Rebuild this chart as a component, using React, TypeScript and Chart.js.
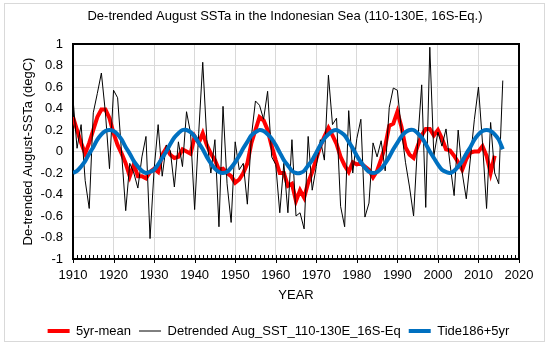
import React, { useEffect, useRef } from "react";
import { Chart, registerables } from "chart.js";

Chart.register(...registerables);

const START_YEAR = 1910;

// 5-year running mean (1910-2014)
const fiveYrMean = [
  0.32, 0.2, 0.08, -0.02, 0.08, 0.2, 0.32, 0.39, 0.39, 0.31,
  0.17, 0.06, -0.02, -0.11, -0.23, -0.12, -0.23, -0.23, -0.25, -0.19,
  -0.16, -0.19, -0.03, 0.03, -0.03, -0.06, -0.05, 0.02, 0.0, -0.02,
  0.14, 0.08, 0.17, 0.06, -0.02, -0.08, -0.17, -0.16, -0.2, -0.23,
  -0.29, -0.26, -0.2, -0.11, 0.08, 0.2, 0.32, 0.29, 0.2, 0.05,
  -0.08, -0.2, -0.2, -0.32, -0.3, -0.46, -0.36, -0.43, -0.29, -0.19,
  -0.07, 0.05, 0.14, 0.22, 0.15, 0.07, -0.05, -0.13, -0.19, -0.1,
  -0.12, -0.11, -0.14, -0.17, -0.24, -0.18, -0.07, 0.05, 0.24, 0.26,
  0.37, 0.23, 0.04, -0.03, -0.06, 0.05, 0.15, 0.21, 0.21, 0.15,
  0.2, 0.12, 0.02, 0.01, -0.04, -0.1, -0.17, -0.07, -0.01, 0.0,
  0.0, 0.05, -0.04, -0.2, -0.04,
];

// Detrended August SST anomaly (1910-2016)
const detrended = [
  0.49, 0.03, 0.25, -0.27, -0.53, 0.36, 0.54, 0.73, 0.36, -0.16,
  0.57, 0.5, -0.02, -0.55, -0.11, -0.2, -0.34, -0.05, 0.14, -0.81,
  -0.17, 0.25, -0.23, 0.06, 0.01, -0.33, 0.09, -0.14, 0.37, 0.17,
  -0.54, 0.17, 0.83, 0.11, -0.2, 0.11, -0.7, 0.42, -0.3, -0.66,
  0.09, -0.17, -0.11, -0.49, 0.14, 0.47, 0.43, 0.3, 0.56, -0.05,
  -0.12, -0.57, -0.11, -0.57, 0.11, -0.6, -0.57, -0.72, 0.14, -0.36,
  -0.14, 0.11, -0.08, 0.71, 0.25, 0.31, -0.51, -0.7, 0.38, -0.2,
  0.12, 0.3, -0.61, -0.48, 0.08, -0.05, 0.1, -0.18, 0.41, 0.59,
  0.57, 0.2, -0.1, -0.33, -0.6, 0.08, 0.62, -0.52, 0.97, -0.04,
  0.18, 0.05, 0.21, -0.12, -0.41, 0.2, -0.2, -0.44, -0.07, 0.3,
  0.6, 0.08, -0.53, 0.27, -0.2, -0.3, 0.66,
];

// Tide186+5yr (1910-2016)
const tide = [
  -0.2, -0.18, -0.14, -0.09, -0.02, 0.04, 0.11, 0.16, 0.19, 0.2,
  0.19, 0.16, 0.11, 0.04, -0.02, -0.09, -0.14, -0.18, -0.2, -0.19,
  -0.17, -0.12, -0.06, 0.0, 0.07, 0.13, 0.17, 0.2, 0.2, 0.18,
  0.14, 0.08, 0.02, -0.05, -0.11, -0.16, -0.19, -0.2, -0.19, -0.15,
  -0.1, -0.04, 0.03, 0.09, 0.15, 0.18, 0.2, 0.19, 0.16, 0.12,
  0.06, -0.01, -0.08, -0.13, -0.18, -0.2, -0.2, -0.18, -0.13, -0.08,
  -0.01, 0.06, 0.12, 0.16, 0.19, 0.2, 0.18, 0.15, 0.09, 0.03,
  -0.04, -0.1, -0.15, -0.19, -0.2, -0.19, -0.16, -0.11, -0.05, 0.02,
  0.08, 0.14, 0.18, 0.2, 0.2, 0.17, 0.13, 0.07, 0.0, -0.06,
  -0.12, -0.17, -0.19, -0.2, -0.18, -0.14, -0.09, -0.02, 0.04, 0.11,
  0.16, 0.19, 0.2, 0.19, 0.16, 0.11, 0.02,
];

const X_MIN = 1910;
const X_MAX = 2020;
const X_STEP = 10;
const Y_MIN = -1;
const Y_MAX = 1;
const Y_STEP = 0.2;

const TITLE = "De-trended August SSTa in the Indonesian Sea (110-130E, 16S-Eq.)";
const Y_TITLE = "De-trended August-SSTa (degC)";
const X_TITLE = "YEAR";
const LABELS = ["5yr-mean", "Detrended Aug_SST_110-130E_16S-Eq", "Tide186+5yr"];

const toPoints = (arr: number[]) => arr.map((v, i) => ({ x: START_YEAR + i, y: v }));

const FONT = "'Liberation Sans', Arial, sans-serif";

const outerBorder = {
  id: "outerBorder",
  beforeDraw(chart: any) {
    const { ctx, width, height } = chart;
    ctx.save();
    ctx.fillStyle = "#ffffff";
    ctx.fillRect(0, 0, width, height);
    ctx.strokeStyle = "#d9d9d9";
    ctx.lineWidth = 1;
    ctx.strokeRect(4.5, 3.5, 540, 338);
    ctx.restore();
  },
  afterDraw(chart: any) {
    const { ctx } = chart;
    ctx.save();
    ctx.fillStyle = "#000";
    ctx.font = "13px " + FONT;
    ctx.textAlign = "center";
    ctx.textBaseline = "middle";
    ctx.fillText(TITLE, 285, 16.5);
    ctx.restore();
  },
};

const plotFrame = {
  id: "plotFrame",
  beforeDatasetsDraw(chart: any) {
    const { ctx, chartArea } = chart;
    const xs = chart.scales.x;
    ctx.save();
    ctx.strokeStyle = "#000";
    ctx.lineWidth = 2;
    ctx.strokeRect(chartArea.left, chartArea.top, chartArea.right - chartArea.left, chartArea.bottom - chartArea.top);
    ctx.lineWidth = 1;
    ctx.beginPath();
    for (let yr = X_MIN; yr <= X_MAX; yr++) {
      const px = Math.round(xs.getPixelForValue(yr)) + 0.5;
      if (yr % 10 === 0) {
        ctx.moveTo(px, chartArea.bottom - 4);
        ctx.lineTo(px, chartArea.bottom + 4);
      } else {
        ctx.moveTo(px, chartArea.bottom - 4);
        ctx.lineTo(px, chartArea.bottom);
      }
    }
    ctx.stroke();
    ctx.restore();
  },
};

const shiftLegend = {
  id: "shiftLegend",
  afterLayout(chart: any) {
    const lg = chart.legend;
    if (lg) {
      lg.left += 19;
      lg.right += 19;
      lg.top += 1.5;
      lg.bottom += 1.5;
    }
  },
};

export default function App() {
  const canvasRef = useRef<HTMLCanvasElement | null>(null);

  useEffect(() => {
    const canvas = canvasRef.current;
    if (!canvas) return;
    const chart = new Chart(canvas, {
      type: "line",
      data: {
        datasets: [
          {
            label: LABELS[0],
            data: toPoints(fiveYrMean),
            borderColor: "#ff0000",
            backgroundColor: "#ff0000",
            borderWidth: 4,
            pointRadius: 0,
            tension: 0,
            order: 3,
          },
          {
            label: LABELS[1],
            data: toPoints(detrended),
            borderColor: "#000000",
            backgroundColor: "#000000",
            borderWidth: 1,
            pointRadius: 0,
            tension: 0,
            order: 2,
          },
          {
            label: LABELS[2],
            data: toPoints(tide),
            borderColor: "#0070c0",
            backgroundColor: "#0070c0",
            borderWidth: 4,
            pointRadius: 0,
            tension: 0.3,
            order: 1,
          },
        ],
      },
      options: {
        responsive: false,
        animation: false,
        devicePixelRatio: 1,
        layout: { padding: { left: 0, right: 31, top: 44, bottom: 0 } },
        font: { family: FONT, size: 13 },
        color: "#000",
        plugins: {
          title: { display: false },
          legend: {
            display: true,
            position: "bottom",
            labels: {
              usePointStyle: true,
              pointStyle: "line",
              pointStyleWidth: 22,
              boxWidth: 22,
              padding: 8,
              color: "#000",
              font: { family: FONT, size: 13 },
              sort: (a: any, b: any) => a.datasetIndex - b.datasetIndex,
            },
          },
          tooltip: { enabled: false },
        },
        scales: {
          x: {
            type: "linear",
            min: X_MIN,
            max: X_MAX,
            border: { display: false },
            grid: { color: "#d9d9d9", lineWidth: 1, drawTicks: false },
            ticks: {
              stepSize: X_STEP,
              autoSkip: false,
              maxRotation: 0,
              padding: 9,
              color: "#000",
              font: { family: FONT, size: 13 },
              callback: (v: any) => String(v),
            },
            title: {
              display: true,
              text: X_TITLE,
              color: "#000",
              font: { family: FONT, size: 13 },
              padding: { top: -5.4, bottom: 12.2 },
            },
          },
          y: {
            type: "linear",
            min: Y_MIN,
            max: Y_MAX,
            border: { display: false },
            grid: { color: "#d9d9d9", lineWidth: 1, drawTicks: false },
            ticks: {
              stepSize: Y_STEP,
              padding: 10,
              color: "#000",
              font: { family: FONT, size: 13 },
              callback: (v: any) => String(Number(Number(v).toFixed(1))),
            },
            title: {
              display: true,
              text: Y_TITLE,
              color: "#000",
              font: { family: FONT, size: 13 },
              padding: { top: 20.2, bottom: -5.2 },
            },
          },
        },
      },
      plugins: [outerBorder, plotFrame, shiftLegend],
    });
    return () => chart.destroy();
  }, []);

  return (
    <div style={{ position: "fixed", left: 0, top: 0, width: 550, height: 346, background: "#fff" }}>
      <canvas ref={canvasRef} width={550} height={346} style={{ display: "block" }} />
    </div>
  );
}
